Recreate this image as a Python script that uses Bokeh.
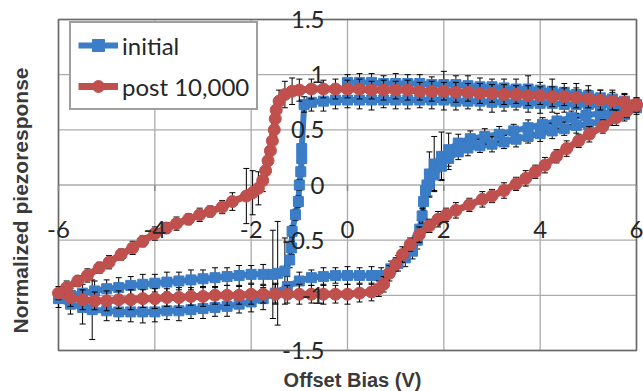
import math
import numpy as np
from bokeh.plotting import figure
from bokeh.models import Range1d, Label, Legend, LegendItem
from bokeh.embed import file_html
from bokeh.resources import INLINE

# ---------------- data ----------------
x_ticks = [-6, -4, -2, 0, 2, 4, 6]
x_tick_labels = ["-6", "-4", "-2", "0", "2", "4", "6"]
y_ticks = [-1.5, -1, -0.5, 0, 0.5, 1, 1.5]
y_tick_labels = ["-1.5", "-1", "-0.5", "0", "0.5", "1", "1.5"]
x_title = "Offset Bias (V)"
y_title = "Normalized piezoresponse"

# "initial" loop, read branch by branch along the sweep
init_a_x = [0.0, 0.25, 0.5, 0.75, 1.0, 1.25, 1.5, 1.75, 2.0, 2.25, 2.5, 2.75, 3.0,
            3.25, 3.5, 3.75, 4.0, 4.25, 4.5, 4.75, 5.0, 5.25, 5.5, 5.75, 6.0]
init_a_y = [0.93, 0.93, 0.93, 0.92, 0.92, 0.92, 0.92, 0.91, 0.91, 0.91, 0.90, 0.89, 0.89,
            0.88, 0.87, 0.87, 0.86, 0.85, 0.84, 0.82, 0.81, 0.79, 0.78, 0.76, 0.73]
init_a_e = [0.07, 0.08, 0.08, 0.07, 0.09, 0.08, 0.08, 0.07, 0.12, 0.08, 0.09, 0.08, 0.07,
            0.08, 0.09, 0.12, 0.07, 0.11, 0.08, 0.10, 0.09, 0.07, 0.08, 0.07, 0.06]

init_b_x = [5.75, 5.5, 5.25, 5.0, 4.75, 4.5, 4.25, 4.0, 3.75, 3.5, 3.25, 3.0, 2.75, 2.5,
            2.25, 2.0, 1.75, 1.5, 1.25, 1.0, 0.75, 0.5, 0.25, 0.0, -0.25, -0.5, -0.75, -0.9]
init_b_y = [0.72, 0.72, 0.72, 0.73, 0.73, 0.73, 0.74, 0.74, 0.74, 0.75, 0.75, 0.75, 0.76, 0.76,
            0.76, 0.77, 0.77, 0.77, 0.77, 0.77, 0.77, 0.77, 0.77, 0.77, 0.77, 0.76, 0.75, 0.73]
init_b_e = [0.06, 0.07, 0.08, 0.07, 0.08, 0.07, 0.08, 0.09, 0.08, 0.07, 0.08, 0.09, 0.08, 0.07,
            0.08, 0.09, 0.08, 0.07, 0.08, 0.08, 0.07, 0.09, 0.08, 0.07, 0.08, 0.09, 0.08, 0.07]

init_c_x = [-0.95, -0.95, -0.97, -1.0, -1.02, -1.08, -1.15, -1.16, -1.2]
init_c_y = [0.33, 0.24, 0.12, 0.0, -0.15, -0.27, -0.42, -0.57, -0.68]
init_c_e = [0.04, 0.04, 0.04, 0.05, 0.05, 0.05, 0.05, 0.06, 0.07]

init_d_x = [-1.3, -1.45, -1.55, -1.75, -2.0, -2.25, -2.5, -2.75, -3.0, -3.25, -3.5,
            -3.75, -4.0, -4.25, -4.5, -4.75, -5.0, -5.25, -5.5, -5.75, -6.0]
init_d_y = [-0.78, -0.80, -0.81, -0.81, -0.81, -0.82, -0.83, -0.84, -0.85, -0.86, -0.87,
            -0.88, -0.89, -0.90, -0.91, -0.93, -0.94, -0.96, -0.98, -1.0, -1.03]
init_d_e = [0.30, 0.47, 0.40, 0.09, 0.08, 0.09, 0.08, 0.09, 0.08, 0.09, 0.08,
            0.09, 0.08, 0.09, 0.08, 0.09, 0.08, 0.09, 0.08, 0.09, 0.08]

init_e_x = [-5.75, -5.5, -5.3, -5.0, -4.75, -4.5, -4.25, -4.0, -3.75, -3.5, -3.25, -3.0,
            -2.75, -2.5, -2.25, -2.0, -1.75, -1.5, -1.25, -1.0, -0.75, -0.5, -0.25, 0.0,
            0.25, 0.5, 0.7]
init_e_y = [-1.08, -1.11, -1.13, -1.14, -1.15, -1.15, -1.15, -1.15, -1.14, -1.14, -1.13, -1.12,
            -1.11, -1.10, -1.08, -1.06, -1.03, -0.98, -0.92, -0.87, -0.84, -0.83, -0.82, -0.82,
            -0.82, -0.82, -0.82]
init_e_e = [0.09, 0.15, 0.27, 0.09, 0.08, 0.09, 0.10, 0.09, 0.08, 0.09, 0.08, 0.09,
            0.08, 0.09, 0.08, 0.09, 0.10, 0.09, 0.09, 0.08, 0.07, 0.08, 0.07, 0.08,
            0.07, 0.08, 0.07]

init_f_x = [0.9, 1.05, 1.2, 1.35, 1.45, 1.5, 1.55, 1.58, 1.62]
init_f_y = [-0.76, -0.71, -0.66, -0.60, -0.50, -0.40, -0.28, -0.15, -0.05]
init_f_e = [0.07, 0.07, 0.08, 0.07, 0.08, 0.08, 0.07, 0.08, 0.08]

init_g_x = [1.65, 1.7, 1.8, 1.95, 2.1, 2.3, 2.55, 2.85, 3.15, 3.45, 3.75, 4.05, 4.35,
            4.65, 4.95, 5.25, 5.5, 5.75, 6.0]
init_g_y = [0.0, 0.10, 0.19, 0.26, 0.32, 0.38, 0.42, 0.44, 0.46, 0.49, 0.52, 0.55, 0.58,
            0.61, 0.63, 0.65, 0.66, 0.68, 0.70]
init_g_e = [0.10, 0.20, 0.25, 0.22, 0.15, 0.08, 0.07, 0.07, 0.07, 0.06, 0.07, 0.06, 0.07,
            0.06, 0.07, 0.06, 0.07, 0.06, 0.06]

init_h_x = [5.75, 5.5, 5.25, 5.0, 4.75, 4.5, 4.25, 4.0, 3.75, 3.5, 3.25, 3.0, 2.75, 2.5,
            2.3, 2.1, 1.95, 1.8, 1.7]
init_h_y = [0.64, 0.61, 0.58, 0.55, 0.54, 0.51, 0.49, 0.465, 0.44, 0.415, 0.39, 0.37, 0.355, 0.335,
            0.30, 0.24, 0.17, 0.09, 0.01]
init_h_e = [0.06, 0.07, 0.06, 0.07, 0.07, 0.06, 0.07, 0.07, 0.06, 0.07, 0.06, 0.07, 0.06, 0.07,
            0.07, 0.10, 0.12, 0.14, 0.12]

# "post 10,000" loop
post_a_x = [6.0, 5.75, 5.5, 5.25, 5.0, 4.75, 4.5, 4.25, 4.0, 3.75, 3.5, 3.25, 3.0, 2.75, 2.5,
            2.25, 2.0, 1.75, 1.5, 1.25, 1.0, 0.75, 0.5, 0.25, 0.0, -0.25, -0.5, -0.75, -1.0, -1.15]
post_a_y = [0.73, 0.75, 0.76, 0.77, 0.78, 0.79, 0.80, 0.80, 0.81, 0.81, 0.82, 0.82, 0.83, 0.83, 0.84,
            0.84, 0.85, 0.85, 0.85, 0.86, 0.86, 0.86, 0.86, 0.87, 0.87, 0.87, 0.87, 0.87, 0.86, 0.85]
post_a_e = [0.06, 0.07, 0.08, 0.09, 0.08, 0.09, 0.08, 0.09, 0.08, 0.09, 0.08, 0.09, 0.08, 0.09, 0.08,
            0.09, 0.08, 0.09, 0.08, 0.09, 0.08, 0.09, 0.08, 0.09, 0.08, 0.09, 0.08, 0.09, 0.10, 0.12]

post_b_x = [-1.3, -1.42, -1.48, -1.5, -1.52, -1.56, -1.6, -1.65, -1.7, -1.76, -1.85, -1.97, -2.1]
post_b_y = [0.82, 0.76, 0.68, 0.60, 0.50, 0.40, 0.31, 0.22, 0.13, 0.04, -0.03, -0.07, -0.10]
post_b_e = [0.12, 0.10, 0.08, 0.07, 0.06, 0.06, 0.07, 0.06, 0.07, 0.10, 0.15, 0.20, 0.25]

post_c_x = [-2.39, -2.6, -2.85, -3.07, -3.3, -3.55, -3.76, -4.0, -4.25, -4.46, -4.7, -4.95,
            -5.15, -5.4, -5.6, -5.83, -6.0]
post_c_y = [-0.15, -0.20, -0.24, -0.27, -0.31, -0.35, -0.39, -0.44, -0.51, -0.57, -0.63, -0.70,
            -0.75, -0.82, -0.87, -0.93, -0.98]
post_c_e = [0.08, 0.06, 0.05, 0.06, 0.05, 0.06, 0.05, 0.06, 0.05, 0.06, 0.05, 0.06,
            0.05, 0.06, 0.05, 0.06, 0.06]

post_d_x = [-5.75, -5.5, -5.25, -5.0, -4.75, -4.5, -4.25, -4.0, -3.75, -3.5, -3.25, -3.0, -2.75,
            -2.5, -2.25, -2.0, -1.75, -1.5, -1.25, -1.0, -0.75, -0.5, -0.25, 0.0, 0.25, 0.5, 0.65]
post_d_y = [-1.02, -1.04, -1.05, -1.05, -1.04, -1.04, -1.03, -1.03, -1.02, -1.02, -1.01, -1.01, -1.0,
            -1.0, -1.0, -0.99, -0.99, -0.99, -0.99, -0.99, -0.99, -0.99, -0.99, -0.99, -0.98, -0.97, -0.94]
post_d_e = [0.08, 0.09, 0.08, 0.09, 0.08, 0.09, 0.08, 0.09, 0.08, 0.09, 0.08, 0.09, 0.08,
            0.09, 0.08, 0.09, 0.08, 0.09, 0.08, 0.09, 0.08, 0.09, 0.08, 0.09, 0.08, 0.08, 0.07]

post_e_x = [0.75, 0.87, 1.0, 1.14, 1.3, 1.49, 1.7, 1.88, 2.05, 2.25, 2.53, 2.8, 3.0, 3.25, 3.5,
            3.7, 3.9, 4.1, 4.34, 4.55, 4.8, 5.02, 5.3, 5.58, 5.8, 6.0]
post_e_y = [-0.90, -0.80, -0.72, -0.63, -0.54, -0.45, -0.37, -0.31, -0.27, -0.23, -0.18, -0.13,
            -0.10, -0.05, 0.01, 0.06, 0.12, 0.18, 0.26, 0.33, 0.40, 0.46, 0.53, 0.61, 0.67, 0.72]
post_e_e = [0.07, 0.07, 0.06, 0.07, 0.06, 0.07, 0.06, 0.07, 0.06, 0.07, 0.06, 0.07,
            0.06, 0.07, 0.06, 0.07, 0.06, 0.07, 0.06, 0.07, 0.06, 0.07, 0.06, 0.07, 0.06, 0.06]

init_x = init_a_x + init_b_x + init_c_x + init_d_x + init_e_x + init_f_x + init_g_x + init_h_x
init_y = init_a_y + init_b_y + init_c_y + init_d_y + init_e_y + init_f_y + init_g_y + init_h_y
init_e = init_a_e + init_b_e + init_c_e + init_d_e + init_e_e + init_f_e + init_g_e + init_h_e
post_x = post_a_x + post_b_x + post_c_x + post_d_x + post_e_x
post_y = post_a_y + post_b_y + post_c_y + post_d_y + post_e_y
post_e = post_a_e + post_b_e + post_c_e + post_d_e + post_e_e

BLUE = "#3B7DC6"
RED = "#C0504D"
TICK_FONT = "Lato"
TXT = "#262626"

# ---------------- layout geometry (pixels) ----------------
W, H = 643, 391
BOX_L, BOX_R, BOX_T, BOX_B = 58, 636, 19, 350   # plotting box inside the canvas
x0, x1 = x_ticks[0], x_ticks[-1]
y0, y1 = y_ticks[0], y_ticks[-1]
sx = (BOX_R - BOX_L) / (x1 - x0)
sy = (BOX_B - BOX_T) / (y1 - y0)
xr = Range1d(x0 - BOX_L / sx, x1 + (W - BOX_R) / sx)
yr = Range1d(y0 - (H - BOX_B) / sy, y1 + BOX_T / sy)

p = figure(width=W, height=H, x_range=xr, y_range=yr,
           output_backend="svg", toolbar_location=None,
           min_border=0, min_border_left=0, min_border_right=0,
           min_border_top=0, min_border_bottom=0)
p.background_fill_color = "white"
p.border_fill_color = "white"
p.outline_line_color = None
p.xaxis.visible = False
p.yaxis.visible = False
p.xgrid.visible = False
p.ygrid.visible = False

# gridlines
p.segment(x0=x_ticks, y0=[y0] * len(x_ticks), x1=x_ticks, y1=[y1] * len(x_ticks),
          line_color="#ababab", line_width=1.3)
p.segment(x0=[x0] * len(y_ticks), y0=y_ticks, x1=[x1] * len(y_ticks), y1=y_ticks,
          line_color="#ababab", line_width=1.3)
# plot-area border
p.quad(left=[x0], right=[x1], bottom=[y0], top=[y1], fill_color=None,
       line_color="#6a6a6a", line_width=1.6)
# small tick marks hanging from the horizontal axis at y = 0
p.segment(x0=x_ticks, y0=[0] * len(x_ticks), x1=x_ticks, y1=[-6 / sy] * len(x_ticks),
          line_color="#8a8a8a", line_width=1.5)


def draw_series(xs, ys, es, color, marker, size, lw):
    xs = np.array(xs)
    ys = np.array(ys)
    es = np.array(es)
    line = p.line(xs, ys, line_color=color, line_width=lw)
    p.segment(x0=xs, y0=ys - es, x1=xs, y1=ys + es, line_color="black", line_width=1)
    p.scatter(np.concatenate([xs, xs]), np.concatenate([ys - es, ys + es]),
              marker="dash", size=6, line_color="black", line_width=1)
    pts = p.scatter(xs, ys, marker=marker, size=size, fill_color=color, line_color=color)
    return line, pts


bl, bs = draw_series(init_x, init_y, init_e, BLUE, "square", 10, 6)
rl, rs = draw_series(post_x, post_y, post_e, RED, "circle", 12, 7)

# tick labels placed next to the centred axes
for v, t in zip(x_ticks, x_tick_labels):
    p.add_layout(Label(x=v, y=0, text=t, y_offset=-44, text_align="center",
                       text_baseline="middle", text_font=TICK_FONT,
                       text_font_size="24px", text_color=TXT))
for v, t in zip(y_ticks, y_tick_labels):
    p.add_layout(Label(x=0, y=v, text=t, x_offset=-23, text_align="right",
                       text_baseline="middle", text_font=TICK_FONT,
                       text_font_size="24px", text_color=TXT))

# axis titles (screen units measured from the canvas' bottom-left)
p.add_layout(Label(x=352, y=H - 379, x_units="screen", y_units="screen", text=x_title,
                   text_align="center", text_baseline="middle",
                   text_font="Liberation Sans", text_font_style="bold",
                   text_font_size="20px", text_color="#3a3a3a"))
p.add_layout(Label(x=20, y=H - 200, x_units="screen", y_units="screen", text=y_title,
                   angle=math.pi / 2, text_align="center", text_baseline="middle",
                   text_font="Liberation Sans", text_font_style="bold",
                   text_font_size="21px", text_color="#3a3a3a"))

legend = Legend(items=[LegendItem(label="initial", renderers=[bl, bs]),
                       LegendItem(label="post 10,000", renderers=[rl, rs])],
                location=(69, H - 25 - 85), padding=7, spacing=11,
                glyph_width=40, glyph_height=30, label_height=30, label_standoff=4,
                label_text_font=TICK_FONT, label_text_font_size="24px",
                label_text_color=TXT,
                border_line_color="#404040", border_line_width=2,
                background_fill_color="white", background_fill_alpha=1)
p.add_layout(legend)

open("out.html", "w").write(file_html(p, INLINE))
